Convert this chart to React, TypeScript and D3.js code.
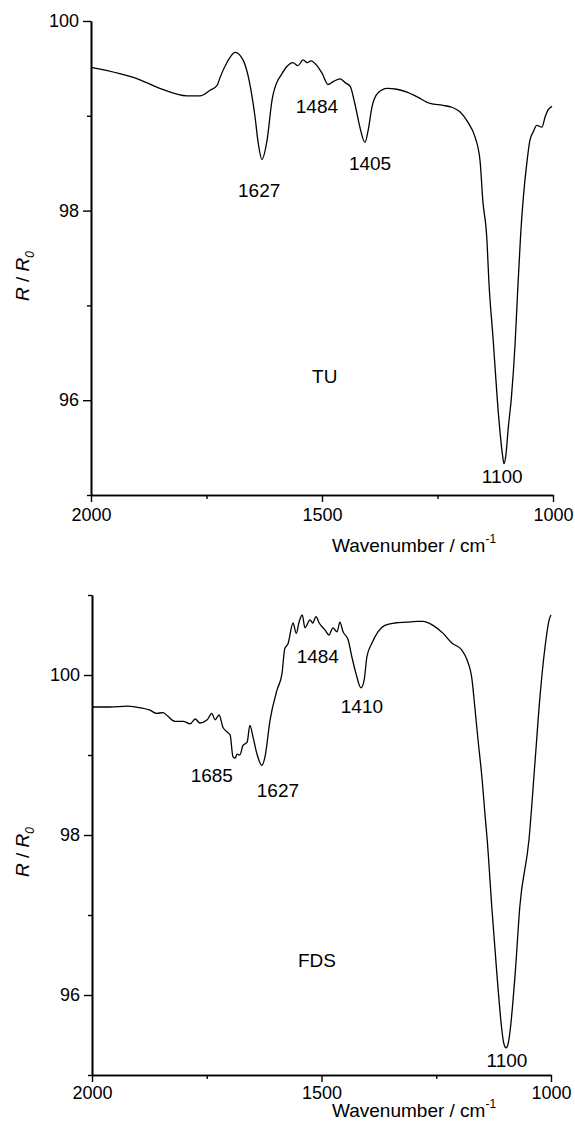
import React, { useEffect, useRef } from "react";
import * as d3 from "d3";

// ---------- DATA ----------
const tuWavenumber = [2000, 1894, 1851, 1792, 1764, 1742, 1727, 1721, 1706, 1688, 1671, 1658, 1645, 1638, 1630, 1619, 1608, 1595, 1591, 1576, 1563, 1552, 1541, 1532, 1524, 1511, 1500, 1487, 1476, 1461, 1450, 1439, 1429, 1418, 1407, 1400, 1392, 1379, 1359, 1338, 1316, 1294, 1266, 1238, 1219, 1201, 1184, 1169, 1158, 1152, 1143, 1139, 1130, 1117, 1110, 1106, 1102, 1097, 1090, 1082, 1077, 1070, 1064, 1056, 1050, 1043, 1035, 1024, 1017, 1011, 1002];
const tuValue = [99.51, 99.38, 99.29, 99.21, 99.21, 99.27, 99.32, 99.40, 99.56, 99.67, 99.59, 99.38, 98.99, 98.71, 98.54, 98.74, 99.17, 99.38, 99.41, 99.52, 99.56, 99.53, 99.59, 99.56, 99.58, 99.53, 99.45, 99.33, 99.36, 99.39, 99.35, 99.31, 99.13, 98.88, 98.72, 98.85, 99.09, 99.24, 99.29, 99.28, 99.25, 99.20, 99.13, 99.11, 99.09, 99.04, 98.93, 98.78, 98.53, 98.11, 97.69, 97.27, 96.67, 95.79, 95.45, 95.33, 95.42, 95.70, 96.03, 96.60, 97.10, 97.75, 98.15, 98.53, 98.74, 98.83, 98.90, 98.88, 98.99, 99.06, 99.10];

const fdsWavenumber = [2000, 1961, 1922, 1895, 1874, 1859, 1845, 1834, 1819, 1801, 1786, 1775, 1765, 1749, 1739, 1732, 1723, 1715, 1706, 1699, 1693, 1688, 1684, 1678, 1671, 1662, 1656, 1649, 1641, 1630, 1623, 1612, 1597, 1586, 1580, 1573, 1562, 1555, 1549, 1542, 1536, 1525, 1519, 1512, 1505, 1492, 1484, 1475, 1466, 1460, 1453, 1442, 1434, 1425, 1414, 1407, 1401, 1390, 1377, 1362, 1340, 1314, 1292, 1279, 1257, 1235, 1216, 1194, 1183, 1172, 1166, 1159, 1150, 1144, 1139, 1129, 1118, 1107, 1103, 1098, 1093, 1089, 1078, 1068, 1048, 1035, 1024, 1013, 1004, 1000];
const fdsValue = [99.60, 99.60, 99.61, 99.59, 99.56, 99.52, 99.53, 99.48, 99.42, 99.42, 99.39, 99.45, 99.40, 99.44, 99.52, 99.44, 99.50, 99.35, 99.29, 99.25, 98.98, 98.96, 99.01, 99.00, 99.12, 99.16, 99.37, 99.22, 99.02, 98.87, 98.98, 99.44, 99.81, 100.02, 100.33, 100.39, 100.65, 100.52, 100.66, 100.75, 100.59, 100.69, 100.65, 100.73, 100.65, 100.56, 100.50, 100.59, 100.54, 100.66, 100.54, 100.44, 100.23, 100.02, 99.84, 99.94, 100.23, 100.40, 100.54, 100.62, 100.65, 100.66, 100.67, 100.67, 100.62, 100.52, 100.40, 100.31, 100.19, 99.94, 99.60, 99.19, 98.69, 98.27, 97.94, 97.10, 96.27, 95.56, 95.40, 95.34, 95.40, 95.56, 96.27, 97.10, 97.94, 98.90, 99.73, 100.35, 100.69, 100.75];

const xMajorTicks = [2000, 1500, 1000];
const xMinorTicks = [1750, 1250];
const yMajorTicks = [96, 98, 100];
const tuYMinorTicks = [95, 97, 99];
const fdsYMinorTicks = [95, 97, 99, 101];

// annotation labels: text with anchor point in data units
const tuLabels = [
  { text: "1627", wn: 1636, v: 98.14 },
  { text: "1484", wn: 1511, v: 99.03 },
  { text: "1405", wn: 1396, v: 98.43 },
  { text: "1100", wn: 1110, v: 95.13 },
  { text: "TU", wn: 1494, v: 96.18 },
];
const fdsLabels = [
  { text: "1685", wn: 1739, v: 98.66 },
  { text: "1627", wn: 1595, v: 98.475 },
  { text: "1484", wn: 1508, v: 100.15 },
  { text: "1410", wn: 1412, v: 99.525 },
  { text: "1100", wn: 1096, v: 95.1 },
  { text: "FDS", wn: 1510, v: 96.35 },
];

const FONT = "'Liberation Sans', Arial, sans-serif";

type Lbl = { text: string; wn: number; v: number };

interface PanelProps {
  wn: number[];
  val: number[];
  yDomain: [number, number];
  xRange: [number, number];
  yRange: [number, number];
  yMinor: number[];
  labels: Lbl[];
  yLabelY: number;
  xTitleY: number;
  xPad: number;
}

function Panel({ wn, val, yDomain, xRange, yRange, yMinor, labels, yLabelY, xTitleY, xPad }: PanelProps) {
  const axRef = useRef<SVGGElement>(null);
  const x = d3.scaleLinear().domain([2000, 1000]).range(xRange);
  const y = d3.scaleLinear().domain(yDomain).range(yRange);

  useEffect(() => {
    const g = d3.select(axRef.current);
    g.selectAll("*").remove();
    const style = (sel: any) => {
      sel.attr("font-size", 18).attr("font-family", FONT);
      sel.selectAll("path.domain").attr("stroke-width", 1.6).attr("stroke", "#000");
      sel.selectAll(".tick line").attr("stroke-width", 1.4).attr("stroke", "#000");
      sel.selectAll(".tick text").attr("fill", "#000");
    };
    g.append("g")
      .attr("transform", `translate(0,${yRange[0]})`)
      .call(d3.axisBottom(x).tickValues(xMinorTicks).tickSize(4).tickSizeOuter(0).tickFormat(() => ""))
      .call(style);
    g.append("g")
      .attr("transform", `translate(0,${yRange[0]})`)
      .call(d3.axisBottom(x).tickValues(xMajorTicks).tickSize(7).tickPadding(xPad).tickSizeOuter(0).tickFormat(d3.format("d")))
      .call(style);
    g.append("g")
      .attr("transform", `translate(${xRange[0]},0)`)
      .call(d3.axisLeft(y).tickValues(yMinor).tickSize(4).tickSizeOuter(0).tickFormat(() => ""))
      .call(style);
    g.append("g")
      .attr("transform", `translate(${xRange[0]},0)`)
      .call(d3.axisLeft(y).tickValues(yMajorTicks).tickSize(8).tickPadding(4).tickSizeOuter(0).tickFormat(d3.format("d")))
      .call(style);
  }, []);

  const pts = wn.map((w, i) => [w, val[i]] as [number, number]);
  const line = d3
    .line<[number, number]>()
    .x((d) => x(d[0]))
    .y((d) => y(d[1]))
    .curve(d3.curveMonotoneX);

  return (
    <g>
      <path d={line(pts) || ""} fill="none" stroke="#000" strokeWidth={1.3} strokeLinejoin="round" />
      <g ref={axRef} />
      {labels.map((l, i) => (
        <text key={i} x={x(l.wn)} y={y(l.v)} textAnchor="middle" fontSize={19} fontFamily={FONT} fill="#000">
          {l.text}
        </text>
      ))}
      <text x={332} y={xTitleY} fontSize={19} fontFamily={FONT} fill="#000">
        Wavenumber / cm
        <tspan fontSize={12} dy={-9}>-1</tspan>
      </text>
      <text
        transform={`translate(29,${yLabelY}) rotate(-90)`}
        textAnchor="middle"
        fontSize={19}
        fontFamily={FONT}
        fill="#000"
      >
        <tspan fontStyle="italic">R</tspan>
        <tspan> / </tspan>
        <tspan fontStyle="italic">R</tspan>
        <tspan fontStyle="italic" fontSize={12} dy={5}>0</tspan>
      </text>
    </g>
  );
}

export default function App() {
  return (
    <div style={{ position: "absolute", left: 0, top: 0 }}>
      <svg width={575} height={1128} style={{ display: "block", background: "#fff" }}>
        <rect width={575} height={1128} fill="#fff" />
        <Panel
          wn={tuWavenumber}
          val={tuValue}
          yDomain={[95, 100]}
          xRange={[91, 553]}
          yRange={[495, 21]}
          yMinor={tuYMinorTicks}
          labels={tuLabels}
          yLabelY={276}
          xTitleY={552}
          xPad={6}
        />
        <Panel
          wn={fdsWavenumber}
          val={fdsValue}
          yDomain={[95, 101]}
          xRange={[92, 551]}
          yRange={[1075, 595]}
          yMinor={fdsYMinorTicks}
          labels={fdsLabels}
          yLabelY={852}
          xTitleY={1117}
          xPad={4}
        />
      </svg>
    </div>
  );
}
